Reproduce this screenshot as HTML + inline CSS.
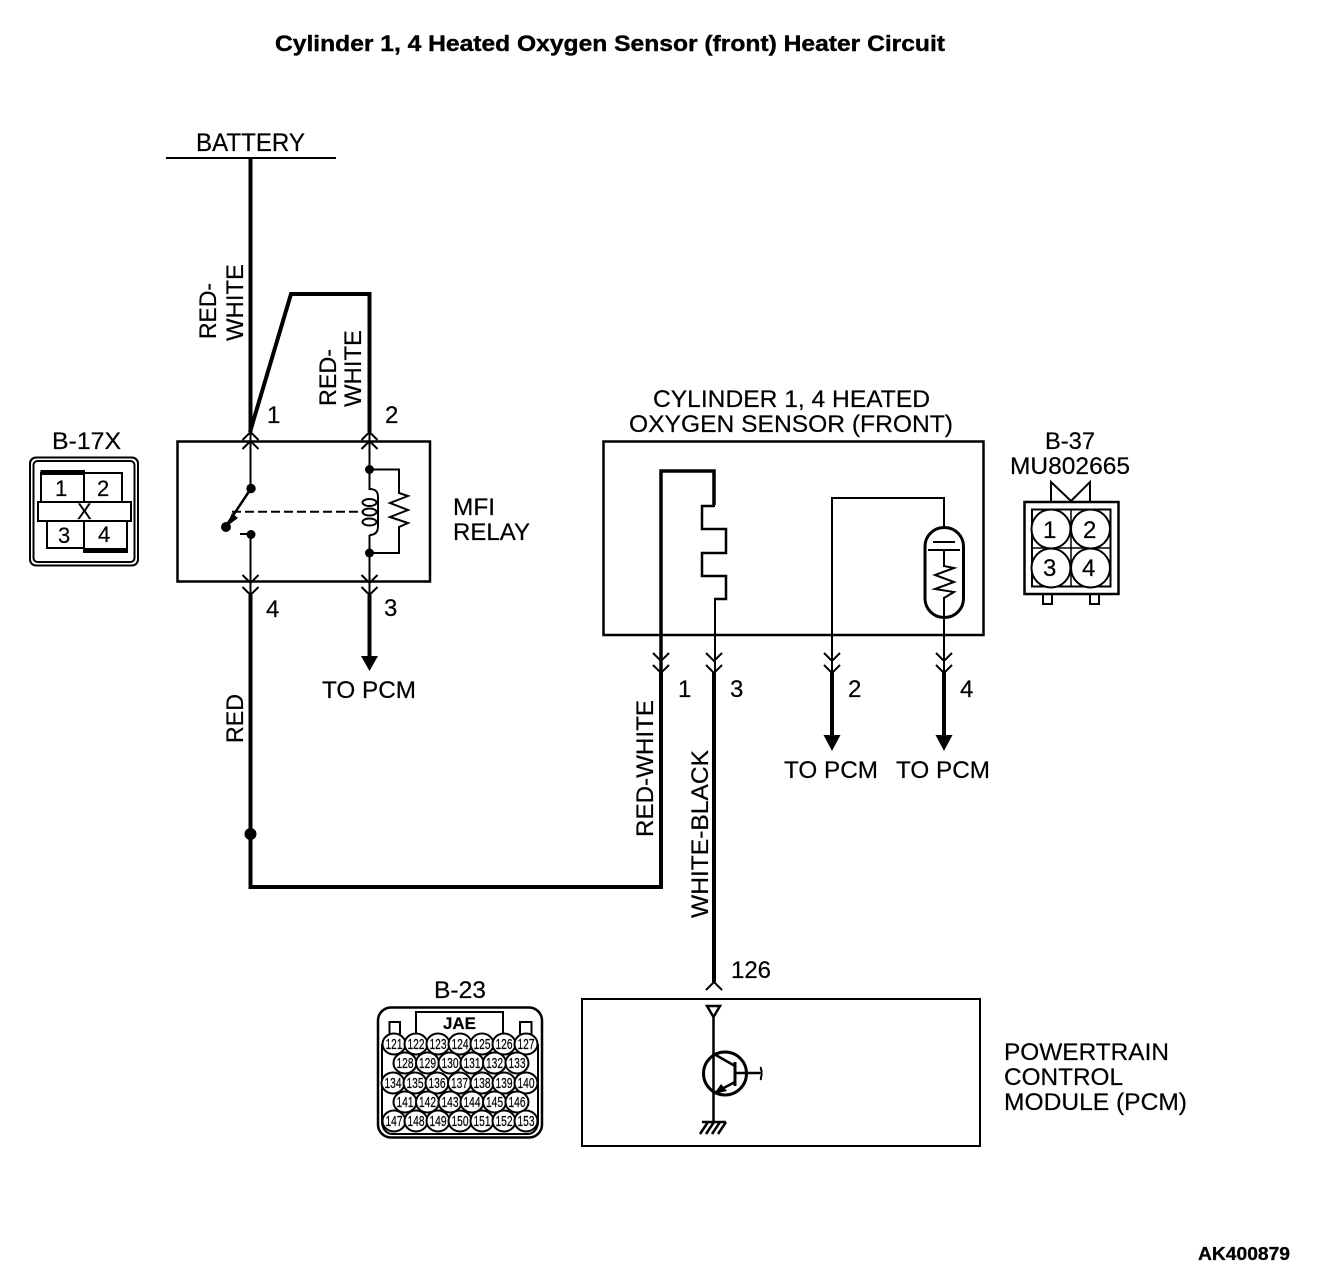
<!DOCTYPE html>
<html><head><meta charset="utf-8"><style>
html,body{margin:0;padding:0;background:#fff}
svg{display:block}
text{font-family:"Liberation Sans",sans-serif;font-size:24px;fill:#000;stroke:#000;stroke-width:.2}
.t{fill:none;stroke:#000;stroke-width:2}
.m{fill:none;stroke:#000;stroke-width:2.5}
.k{fill:none;stroke:#000;stroke-width:4}
.c text{font-size:15px;text-anchor:middle}
.c ellipse{fill:#fff;stroke:#000;stroke-width:2}
</style></head><body>
<svg width="1328" height="1276" viewBox="0 0 1328 1276" xmlns="http://www.w3.org/2000/svg">
<rect width="1328" height="1276" fill="#fff"/>
<text x="275" y="51" font-weight="bold" style="font-size:22.5px;stroke-width:.4" textLength="670" lengthAdjust="spacingAndGlyphs">Cylinder 1, 4 Heated Oxygen Sensor (front) Heater Circuit</text>
<text x="196" y="151" style="font-size:25px" textLength="109" lengthAdjust="spacingAndGlyphs">BATTERY</text>
<path class="t" d="M166 158H336"/>
<path class="k" d="M250.5 158V432"/>
<path class="k" d="M250 432L291 294H369.5V432"/>
<text x="267" y="423">1</text>
<text x="385" y="423">2</text>
<g>
<text transform="translate(216,339) rotate(-90)" textLength="56" lengthAdjust="spacingAndGlyphs">RED-</text>
<text transform="translate(243,341) rotate(-90)" textLength="77" lengthAdjust="spacingAndGlyphs">WHITE</text>
<text transform="translate(336,406) rotate(-90)" textLength="57" lengthAdjust="spacingAndGlyphs">RED-</text>
<text transform="translate(361,407) rotate(-90)" textLength="77" lengthAdjust="spacingAndGlyphs">WHITE</text>
<text transform="translate(243,743) rotate(-90)" textLength="49" lengthAdjust="spacingAndGlyphs">RED</text>
<text transform="translate(653,837) rotate(-90)" textLength="137" lengthAdjust="spacingAndGlyphs">RED-WHITE</text>
<text transform="translate(708,918) rotate(-90)" textLength="168" lengthAdjust="spacingAndGlyphs">WHITE-BLACK</text>
</g>

<!-- relay -->
<rect class="m" x="177.5" y="441.5" width="252.5" height="140"/>
<path class="t" d="M250.5 432V488M250.5 534V595M240 534H250.5M369.5 432V490M369.5 535V595"/>
<path class="t" d="M242.5 440L250.5 432L258.5 440M242.5 449L250.5 441L258.5 449M361.5 440L369.5 432L377.5 440M361.5 449L369.5 441L377.5 449"/>
<path class="t" d="M242.5 575L250.5 583L258.5 575M242.5 587L250.5 595L258.5 587M361.5 575L369.5 583L377.5 575M361.5 587L369.5 595L377.5 587"/>
<circle cx="251" cy="488.500" r="4.700"/><circle cx="226" cy="527" r="5"/><circle cx="251" cy="534.500" r="4.500"/>
<circle cx="369.500" cy="469.500" r="4.500"/><circle cx="369.500" cy="553" r="4.500"/>
<path class="m" d="M250 490L228 523"/>
<path d="M226 527L232 513L238 518Z"/>
<path d="M232 511.700H364" fill="none" stroke="#000" stroke-width="2" stroke-dasharray="9 4"/>
<path class="t" d="M369.500 489C376 489 378 492 378 497V526C378 531 376 535 369.500 535"/>
<ellipse class="t" cx="369.500" cy="502.500" rx="7" ry="3.500"/><ellipse class="t" cx="369.500" cy="512" rx="7" ry="3.500"/><ellipse class="t" cx="369.500" cy="522" rx="7" ry="3.500"/>
<path class="t" d="M369.500 469.500H399V493L408 496L390 503L408 510L390 517L408 523L399 527V553H369.500"/>
<path class="t" d="M369.500 553V581"/>
<text x="453" y="515" textLength="42" lengthAdjust="spacingAndGlyphs">MFI</text>
<text x="453" y="540" textLength="77" lengthAdjust="spacingAndGlyphs">RELAY</text>
<text x="266" y="617">4</text>
<text x="384" y="616">3</text>
<path class="k" d="M369.500 595V657"/>
<path d="M361 656H378L369.500 671Z"/>
<text x="322" y="698" textLength="94" lengthAdjust="spacingAndGlyphs">TO PCM</text>
<path class="k" d="M250.500 595V887H661V672"/>
<circle cx="250.500" cy="834" r="6"/>

<!-- B-17X -->
<text x="52" y="449" textLength="69" lengthAdjust="spacingAndGlyphs">B-17X</text>
<rect class="t" x="30" y="457.500" width="108" height="108" rx="6"/>
<rect class="t" x="33.500" y="461" width="101" height="101" rx="4"/>
<path class="t" d="M41 472V501M84 472V501M84 473H122V501M47 521V548H84V521M84 521V550H127V521"/>
<path d="M40.500 470H85V475H40.500ZM83 548H128V553H83Z"/>
<rect class="t" x="38" y="502" width="93" height="19"/>
<text x="55" y="496" style="font-size:22px">1</text><text x="97" y="496" style="font-size:22px">2</text>
<text x="58" y="543" style="font-size:22px">3</text><text x="98" y="542" style="font-size:22px">4</text>
<text x="77" y="519" style="font-size:22px">X</text>

<!-- sensor -->
<text x="653" y="407" textLength="277" lengthAdjust="spacingAndGlyphs">CYLINDER 1, 4 HEATED</text>
<text x="629" y="432" textLength="324" lengthAdjust="spacingAndGlyphs">OXYGEN SENSOR (FRONT)</text>
<rect class="m" x="603.500" y="441.500" width="380" height="193.500"/>
<path class="k" d="M661 672V471H714V505" style="stroke-width:3.500"/>
<path class="t" d="M714 505V506H702V529M714 599H715V672M702 553V575"/>
<path class="m" d="M714 506H702V529H726V553H702V576H726V599H714"/>
<path class="t" d="M832 672V498H944V527M944 550V567M944 597V672"/>
<rect x="925" y="527.500" width="38.500" height="90" rx="19" fill="none" stroke="#000" stroke-width="3"/>
<path class="t" d="M933 542H955M928 550H960"/>
<path class="t" d="M944 566L954 568L935 575L954 582L935 589L954 592L944 598"/>
<path class="t" d="M653 653L661 661L669 653M653 665L661 673L669 665M706 653L714 661L722 653M706 665L714 673L722 665M824 653L832 661L840 653M824 665L832 673L840 665M936 653L944 661L952 653M936 665L944 673L952 665"/>
<text x="678" y="697">1</text><text x="730" y="697">3</text>
<text x="848" y="697">2</text><text x="960" y="697">4</text>
<path class="k" d="M714 672V982M832 672V737M944 672V737"/>
<path d="M823.500 735H840.500L832 751ZM935.500 735H952.500L944 751Z"/>
<text x="784" y="778" textLength="94" lengthAdjust="spacingAndGlyphs">TO PCM</text>
<text x="896" y="778" textLength="94" lengthAdjust="spacingAndGlyphs">TO PCM</text>

<!-- B-37 -->
<text x="1045" y="449" textLength="50" lengthAdjust="spacingAndGlyphs">B-37</text>
<text x="1010" y="474" textLength="120" lengthAdjust="spacingAndGlyphs">MU802665</text>
<path class="t" d="M1051 501V482L1071 501L1090 482V501"/>
<rect class="m" x="1024.500" y="502" width="94" height="92"/>
<rect class="t" x="1032" y="509.500" width="78.500" height="77"/>
<path d="M1071 509V586M1032 548H1110" stroke="#000" stroke-width="1.500"/>
<g fill="#fff" stroke="#000" stroke-width="2"><circle cx="1051" cy="529" r="19.500"/><circle cx="1090.500" cy="529" r="19.500"/><circle cx="1051" cy="568" r="19.500"/><circle cx="1090.500" cy="568" r="19.500"/></g>
<path class="t" d="M1043 594V604H1052V594M1090 594V604H1099V594"/>
<text x="1043" y="538" style="font-size:24px">1</text><text x="1083" y="538" style="font-size:24px">2</text>
<text x="1043" y="576" style="font-size:24px">3</text><text x="1082" y="576" style="font-size:24px">4</text>

<!-- B-23 -->
<text x="434" y="998" textLength="52" lengthAdjust="spacingAndGlyphs">B-23</text>
<rect x="378" y="1007.500" width="164" height="130" rx="13" fill="none" stroke="#000" stroke-width="2.500"/>
<path class="t" d="M416 1033V1012H503V1033M389.500 1034V1022H400V1034M520 1034V1022H531.500V1034"/>
<text x="459.500" y="1029" text-anchor="middle" style="font-size:17px" font-weight="bold">JAE</text>
<path class="t" d="M382 1044V1122C382 1128 386 1134 392 1134H528C534 1134 538 1128 538 1122V1044"/>
<g class="c">
<ellipse cx="394" cy="1044" rx="11.500" ry="10.500"/><text transform="translate(394,1049) scale(.68,1)">121</text>
<ellipse cx="416" cy="1044" rx="11.500" ry="10.500"/><text transform="translate(416,1049) scale(.68,1)">122</text>
<ellipse cx="438" cy="1044" rx="11.500" ry="10.500"/><text transform="translate(438,1049) scale(.68,1)">123</text>
<ellipse cx="460" cy="1044" rx="11.500" ry="10.500"/><text transform="translate(460,1049) scale(.68,1)">124</text>
<ellipse cx="482" cy="1044" rx="11.500" ry="10.500"/><text transform="translate(482,1049) scale(.68,1)">125</text>
<ellipse cx="504" cy="1044" rx="11.500" ry="10.500"/><text transform="translate(504,1049) scale(.68,1)">126</text>
<ellipse cx="526" cy="1044" rx="11.500" ry="10.500"/><text transform="translate(526,1049) scale(.68,1)">127</text>
<ellipse cx="405" cy="1063" rx="11.500" ry="10.500"/><text transform="translate(405,1068) scale(.68,1)">128</text>
<ellipse cx="427.500" cy="1063" rx="11.500" ry="10.500"/><text transform="translate(427.500,1068) scale(.68,1)">129</text>
<ellipse cx="450" cy="1063" rx="11.500" ry="10.500"/><text transform="translate(450,1068) scale(.68,1)">130</text>
<ellipse cx="472" cy="1063" rx="11.500" ry="10.500"/><text transform="translate(472,1068) scale(.68,1)">131</text>
<ellipse cx="494.500" cy="1063" rx="11.500" ry="10.500"/><text transform="translate(494.500,1068) scale(.68,1)">132</text>
<ellipse cx="517" cy="1063" rx="11.500" ry="10.500"/><text transform="translate(517,1068) scale(.68,1)">133</text>
<ellipse cx="393" cy="1083" rx="11.500" ry="10.500"/><text transform="translate(393,1088) scale(.68,1)">134</text>
<ellipse cx="415" cy="1083" rx="11.500" ry="10.500"/><text transform="translate(415,1088) scale(.68,1)">135</text>
<ellipse cx="437" cy="1083" rx="11.500" ry="10.500"/><text transform="translate(437,1088) scale(.68,1)">136</text>
<ellipse cx="459.500" cy="1083" rx="11.500" ry="10.500"/><text transform="translate(459.500,1088) scale(.68,1)">137</text>
<ellipse cx="482" cy="1083" rx="11.500" ry="10.500"/><text transform="translate(482,1088) scale(.68,1)">138</text>
<ellipse cx="504" cy="1083" rx="11.500" ry="10.500"/><text transform="translate(504,1088) scale(.68,1)">139</text>
<ellipse cx="526" cy="1083" rx="11.500" ry="10.500"/><text transform="translate(526,1088) scale(.68,1)">140</text>
<ellipse cx="405" cy="1102" rx="11.500" ry="10.500"/><text transform="translate(405,1107) scale(.68,1)">141</text>
<ellipse cx="427.500" cy="1102" rx="11.500" ry="10.500"/><text transform="translate(427.500,1107) scale(.68,1)">142</text>
<ellipse cx="450" cy="1102" rx="11.500" ry="10.500"/><text transform="translate(450,1107) scale(.68,1)">143</text>
<ellipse cx="472" cy="1102" rx="11.500" ry="10.500"/><text transform="translate(472,1107) scale(.68,1)">144</text>
<ellipse cx="494.500" cy="1102" rx="11.500" ry="10.500"/><text transform="translate(494.500,1107) scale(.68,1)">145</text>
<ellipse cx="517" cy="1102" rx="11.500" ry="10.500"/><text transform="translate(517,1107) scale(.68,1)">146</text>
<ellipse cx="394" cy="1121" rx="11.500" ry="10.500"/><text transform="translate(394,1126) scale(.68,1)">147</text>
<ellipse cx="416" cy="1121" rx="11.500" ry="10.500"/><text transform="translate(416,1126) scale(.68,1)">148</text>
<ellipse cx="438" cy="1121" rx="11.500" ry="10.500"/><text transform="translate(438,1126) scale(.68,1)">149</text>
<ellipse cx="460" cy="1121" rx="11.500" ry="10.500"/><text transform="translate(460,1126) scale(.68,1)">150</text>
<ellipse cx="482" cy="1121" rx="11.500" ry="10.500"/><text transform="translate(482,1126) scale(.68,1)">151</text>
<ellipse cx="504" cy="1121" rx="11.500" ry="10.500"/><text transform="translate(504,1126) scale(.68,1)">152</text>
<ellipse cx="526" cy="1121" rx="11.500" ry="10.500"/><text transform="translate(526,1126) scale(.68,1)">153</text>
</g>

<!-- PCM -->
<text x="731" y="978" textLength="40" lengthAdjust="spacingAndGlyphs">126</text>
<path class="t" d="M706 990L714 982L722 990"/>
<rect class="t" x="582" y="999" width="398" height="147"/>
<path class="m" d="M707 1006H720L713.500 1017Z"/>
<path class="m" d="M713.500 1017V1122"/>
<circle cx="725" cy="1073.500" r="21.500" fill="none" stroke="#000" stroke-width="3"/>
<path class="k" d="M735 1062V1086" style="stroke-width:3"/>
<path class="m" d="M714 1054L735 1066M735 1073H760M735 1082L716 1092"/>
<path d="M714 1094L721 1084L727 1091Z"/>
<path class="t" d="M761 1067C760 1070 763 1071 761 1073C763 1075 760 1077 761 1080"/>
<path class="m" d="M702 1122H726M708 1122L700 1134M714 1122L706 1134M720 1122L712 1134M726 1122L718 1134"/>
<text x="1004" y="1060" textLength="165" lengthAdjust="spacingAndGlyphs">POWERTRAIN</text>
<text x="1004" y="1085" textLength="119" lengthAdjust="spacingAndGlyphs">CONTROL</text>
<text x="1004" y="1110" textLength="183" lengthAdjust="spacingAndGlyphs">MODULE (PCM)</text>
<text x="1198" y="1260" font-weight="bold" style="font-size:18px;stroke-width:.3" textLength="92" lengthAdjust="spacingAndGlyphs">AK400879</text>
</svg>
</body></html>
